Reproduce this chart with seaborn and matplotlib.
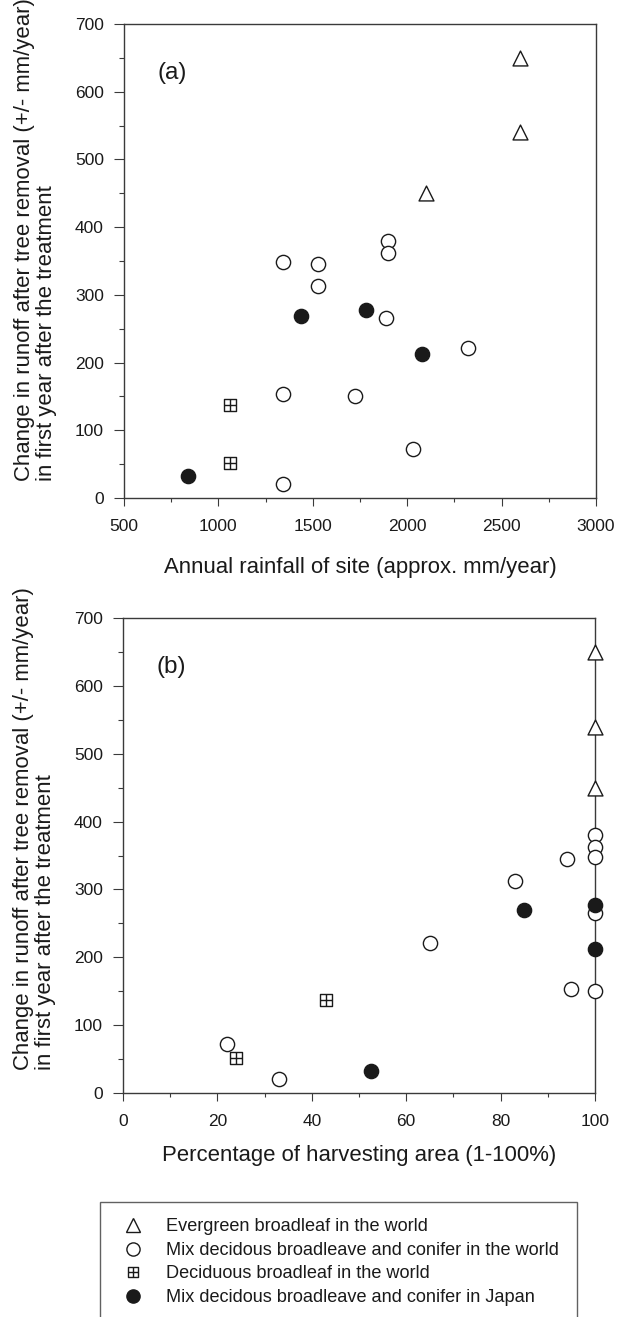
import numpy as np
import pandas as pd
import matplotlib
matplotlib.use("Agg")
import matplotlib.pyplot as plt
from matplotlib.path import Path
from matplotlib.lines import Line2D
import seaborn as sns

# ---------------- data ----------------
forest_types = [
    "Evergreen broadleaf in the world",
    "Mix decidous broadleave and conifer in the world",
    "Deciduous broadleaf in the world",
    "Mix decidous broadleave and conifer in Japan",
]

evg_rainfall = [2600, 2600, 2100]
evg_harvest = [100, 100, 100]
evg_runoff = [650, 540, 450]

mixw_rainfall = [1900, 1900, 1340, 1530, 1530, 1890, 2320, 1340, 1725, 2030, 1340]
mixw_harvest = [100, 100, 100, 94, 83, 100, 65, 95, 100, 22, 33]
mixw_runoff = [380, 362, 348, 345, 313, 266, 221, 153, 151, 72, 20]

dec_rainfall = [1060, 1060]
dec_harvest = [43, 24]
dec_runoff = [137, 51]

mixj_rainfall = [1440, 1780, 2080, 840]
mixj_harvest = [85, 100, 100, 52.5]
mixj_runoff = [269, 277, 212, 33]

x_label_a = "Annual rainfall of site (approx. mm/year)"
x_label_b = "Percentage of harvesting area (1-100%)"
y_label = "Change in runoff after tree removal (+/- mm/year)\nin first year after the treatment"

rows = []
for t, rf, hv, ro in [
    (forest_types[0], evg_rainfall, evg_harvest, evg_runoff),
    (forest_types[1], mixw_rainfall, mixw_harvest, mixw_runoff),
    (forest_types[2], dec_rainfall, dec_harvest, dec_runoff),
    (forest_types[3], mixj_rainfall, mixj_harvest, mixj_runoff),
]:
    for a, b, c in zip(rf, hv, ro):
        rows.append({"type": t, "rainfall": a, "harvest": b, "runoff": c})
df = pd.DataFrame(rows)

# ---------------- style ----------------
sns.set_theme(style="ticks")
plt.rcParams["font.family"] = ["Liberation Sans", "DejaVu Sans"]
INK = "#1a1a1a"
AX = "#3a3a3a"

# custom boxed-cross marker
sq_verts = [(-1, -1), (1, -1), (1, 1), (-1, 1), (-1, -1),
            (0, -1), (0, 1), (-1, 0), (1, 0)]
sq_codes = [Path.MOVETO, Path.LINETO, Path.LINETO, Path.LINETO, Path.CLOSEPOLY,
            Path.MOVETO, Path.LINETO, Path.MOVETO, Path.LINETO]
boxcross = Path(sq_verts, sq_codes)

markers = {forest_types[0]: "^", forest_types[1]: "o",
           forest_types[2]: boxcross, forest_types[3]: "o"}
faces = {forest_types[0]: "white", forest_types[1]: "white",
         forest_types[2]: "white", forest_types[3]: INK}
sizes = {forest_types[0]: 115, forest_types[1]: 105,
         forest_types[2]: 72, forest_types[3]: 105}
leg_sizes = {forest_types[0]: 9.5, forest_types[1]: 9.5,
             forest_types[2]: 7.5, forest_types[3]: 9.5}

W, H = 617, 1317
fig = plt.figure(figsize=(W / 100, H / 100), dpi=100)
ax_a = fig.add_axes([124 / W, 1 - 498 / H, 472 / W, 474 / H])
ax_b = fig.add_axes([123 / W, 1 - 1093 / H, 472 / W, 475 / H])


def draw(ax, xcol):
    for t in forest_types:
        sub = df[df["type"] == t]
        sns.scatterplot(data=sub, x=xcol, y="runoff", ax=ax, marker=markers[t],
                        s=sizes[t], color=faces[t], edgecolor=INK, linewidth=1.0,
                        clip_on=False, zorder=4, legend=False)


draw(ax_a, "rainfall")
draw(ax_b, "harvest")

for ax, ly in ((ax_a, 0.545), (ax_b, 0.556)):
    ax.set_ylim(0, 700)
    ax.set_yticks(np.arange(0, 701, 100))
    ax.set_yticks(np.arange(50, 700, 100), minor=True)
    for sp in ax.spines.values():
        sp.set_color(AX)
        sp.set_linewidth(1.0)
    ax.tick_params(axis="both", which="both", colors=AX, width=0.8,
                   labelcolor=INK, labelsize=12.5, direction="out")
    ax.tick_params(axis="y", which="major", length=7, pad=7.5)
    ax.tick_params(axis="y", which="minor", length=3.5)
    ax.tick_params(axis="x", which="major", length=5.5, pad=9.5)
    ax.tick_params(axis="x", which="minor", length=3)
    ax.set_ylabel(y_label, fontsize=15.9, color=INK, linespacing=1.05,
                  multialignment="left")
    ax.yaxis.set_label_coords(-0.143, ly)

ax_a.set_xlim(500, 3000)
ax_a.set_xticks(np.arange(500, 3001, 500))
ax_a.set_xticks(np.arange(750, 3000, 500), minor=True)
ax_a.set_xlabel(x_label_a, fontsize=15.9, color=INK, labelpad=16.5)
ax_a.text(0.072, 0.897, "(a)", transform=ax_a.transAxes, fontsize=17.5,
          va="center", ha="left", color=INK)

ax_b.set_xlim(0, 100)
ax_b.set_xticks(np.arange(0, 101, 20))
ax_b.set_xticks(np.arange(10, 100, 20), minor=True)
ax_b.set_xlabel(x_label_b, fontsize=15.9, color=INK, labelpad=11.5)
ax_b.text(0.072, 0.897, "(b)", transform=ax_b.transAxes, fontsize=17.5,
          va="center", ha="left", color=INK)

handles = []
for t in forest_types:
    handles.append(Line2D([], [], linestyle="none", marker=markers[t],
                          markersize=leg_sizes[t], markerfacecolor=faces[t],
                          markeredgecolor=INK, markeredgewidth=1.0))
leg = fig.legend(handles, forest_types, loc="upper left",
                 bbox_to_anchor=(100 / W, -0.05, 477 / W, 1 - 1202 / H + 0.05),
                 mode="expand", borderaxespad=0, fontsize=13.1,
                 frameon=True, fancybox=False, borderpad=0.9,
                 handlelength=1.8, handletextpad=0.92, labelspacing=0.36)
leg.get_frame().set_edgecolor(AX)
leg.get_frame().set_linewidth(1.0)
for txt in leg.get_texts():
    txt.set_color(INK)

fig.savefig("out.png", dpi=100)
